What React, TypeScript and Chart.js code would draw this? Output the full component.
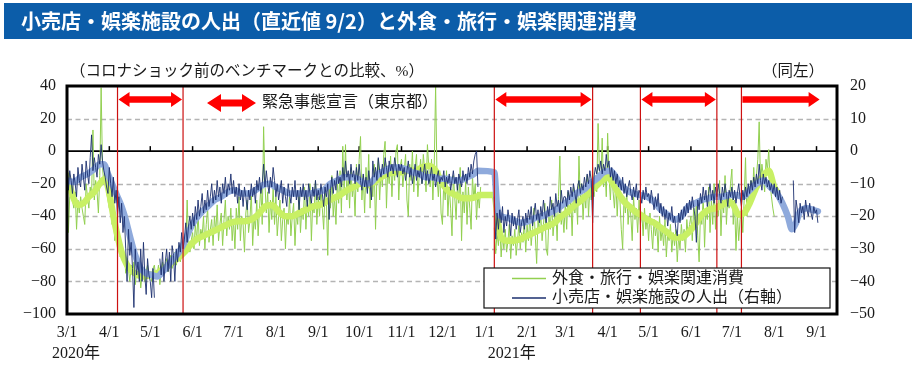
import React, { useEffect, useRef } from 'react';
import { Chart, registerables } from 'chart.js';

Chart.register(...registerables);

// ---------- texts ----------
const TITLE = '小売店・娯楽施設の人出（直近値 9/2）と外食・旅行・娯楽関連消費';
const LEFT_UNIT = '（コロナショック前のベンチマークとの比較、%）';
const RIGHT_UNIT = '（同左）';
const EMERGENCY_LABEL = '緊急事態宣言（東京都）';
const CONSUMPTION_LABEL = '外食・旅行・娯楽関連消費';
const MOBILITY_LABEL = '小売店・娯楽施設の人出（右軸）';

// ---------- axis ----------
const monthStarts = [
  '2020-03-01', '2020-04-01', '2020-05-01', '2020-06-01', '2020-07-01', '2020-08-01', '2020-09-01',
  '2020-10-01', '2020-11-01', '2020-12-01', '2021-01-01', '2021-02-01', '2021-03-01', '2021-04-01',
  '2021-05-01', '2021-06-01', '2021-07-01', '2021-08-01', '2021-09-01',
];
const tickLabels = [
  '3/1', '4/1', '5/1', '6/1', '7/1', '8/1', '9/1', '10/1', '11/1', '12/1',
  '1/1', '2/1', '3/1', '4/1', '5/1', '6/1', '7/1', '8/1', '9/1',
];
const yearLabels: [string, string, number][] = [
  ['2020年', '2020-03-01', -15],
  ['2021年', '2021-01-01', 3],
];
const leftMin = -100, leftMax = 40, leftStep = 20;
const rightMin = -50, rightMax = 20, rightStep = 10;
const axisEndDate = '2021-09-16';

// emergency declarations (Tokyo)
const emergencyPeriods: [string, string | null][] = [
  ['2020-04-07', '2020-05-25'],
  ['2021-01-08', '2021-03-21'],
  ['2021-04-25', '2021-06-20'],
  ['2021-07-08', null],
];
const ongoingArrowEnd = '2021-09-04';

// ---------- data: daily consumption (left axis, %), one array per month from 2020-03 ----------
const consumptionByMonth: (number | null)[][] = [
  [-5, -50, -28, -22, -30, -35, -25, -48, -30, -38, -28, -35, -40, -45, -20, -28, -35, -22, -28, 13, -30, -18, -25, -38, -15, 39, -10, -20, -8, -25, -30],
  [-35, -20, -45, -40, -55, -48, -60, -52, -65, -58, -68, -62, -75, -66, -72, -80, -70, -76, -68, -82, -74, -78, -70, -84, -76, -72, -80, -74, -70, -78],
  [-74, -80, -72, -70, -78, -76, -70, -82, -74, -68, -75, -70, -66, -74, -70, -64, -72, -66, -62, -70, -66, -58, -68, -62, -56, -64, -60, -30, -54, -62, -55],
  [-50, -60, -45, -55, -38, -58, -48, -52, -40, -60, -45, -35, -56, -48, -42, -58, -40, -50, -33, -55, -45, -38, -58, -42, -30, -52, -40, -48, -35, -55],
  [-42, -60, -35, -48, -28, -55, -40, -45, -62, -38, -30, -50, -42, -25, -58, -40, -48, -30, -52, -35, -22, -45, 15, -20, -38, -25, -50, -30, -42, -22, -45],
  [-28, -52, -40, -30, -55, -42, -35, -60, -38, -45, -28, -52, -40, -32, -58, -38, -45, -25, -50, -35, -42, -22, -48, -30, -40, -20, -55, -32, -38, -18, -45],
  [-28, -40, -22, -35, -48, -25, -30, -64, -20, -35, -15, -40, -28, -45, -18, -32, -12, -38, 3, -25, 4, -30, -15, -35, -10, -28, -20, -40, -8, -25],
  [-5, 9, -30, -15, -38, -10, -25, -2, -35, -18, -28, -8, -48, -15, -5, -30, -12, -22, -2, 6, -35, -10, -20, -3, -28, -8, -18, 0, 4, -30, -10],
  [-5, -22, -12, -2, -30, -40, -8, -18, 0, -25, -10, -2, -28, -15, -5, -20, -2, -12, -25, 4, -10, -22, -5, -30, -8, 40, -15, -28, -12, -38],
  [-45, -18, -30, -12, -40, -22, -35, -52, -15, -28, -42, -20, -32, -10, -55, -25, -38, -18, -45, -22, -35, -48, -15, -30, -20, -42, -25, -35, -22, null, null],
  [null, null, null, null, null, null, null, -47, -63, -50, -58, -45, -65, -52, -60, -48, -62, -55, -45, -66, -52, -58, -48, -64, -55, -45, -60, -50, -56, -42, -62],
  [-45, -55, -40, -58, -48, -35, -52, -69, -42, -50, -38, -55, -45, -32, -60, -64, -40, -48, -30, -52, -42, -35, -55, -28, -3, -45, -38, -50],
  [-32, -48, -25, -40, -30, -52, -22, -38, -28, -45, -3, -30, -20, -42, -25, -35, -15, -40, -22, -30, -10, -28, -15, -25, 17, -12, -20, 8, -22, -10, -28],
  [11, -15, -30, -12, -25, -35, -18, -40, -22, -30, -48, -60, -28, -38, -25, -45, -32, -40, -55, -28, -42, -35, -50, -30, -45, -38, -52, -35, -48, -40],
  [-55, -38, -48, -60, -42, -52, -45, -62, -40, -55, -48, -58, -42, -65, -50, -55, -45, -62, -50, -58, -48, -68, -52, -60, -45, -55, -48, -62, -42, -52, -45],
  [-40, -55, -35, -48, -30, -52, -68, -38, -45, -28, -59, -35, -42, -22, -50, -30, -45, -20, -48, -32, -40, -18, -52, -30, -38, -15, -45, -28, -35, -20],
  [-11, -45, -30, -61, -38, -55, -42, -35, -50, -30, -4, -40, -25, -35, -18, -30, -10, -25, -15, -5, 18, -20, -8, -15, -25, -5, -12, 1, -20, -28, -35],
  [-40],
];

// ---------- data: daily mobility (right axis, %), one array per month from 2020-03 ----------
const mobilityByMonth: (number | null)[][] = [
  [-1, -12, -6, -9, -13, -7, -10, -14, -5, -9, -11, -4, -8, -12, -3, -7, -10, -2, 5, -6, -2, -5, -8, -1, -4, 2, -3, -6, -8, -11, -13],
  [-5, -10, -14, -8, -16, -12, -20, -14, -22, -16, -25, -20, -30, -40, -24, -32, -28, -36, -48, -30, -38, -34, -40, -30, -40, -28, -38, -44, -33, -38],
  [-40, -45, -36, -45, null, null, null, -33, -38, -31, -40, -34, -30, -37, -31, -40, -29, -32, -40, -30, -34, -28, -31, -25, -30, -27, -22, -28, -23, -20, -24],
  [-19, -23, -17, -21, -15, -20, -17, -13, -19, -15, -18, -12, -17, -14, -10, -16, -12, -15, -9, -14, -11, -16, -10, -13, -8, -14, -10, -12, -7, -13],
  [-9, -14, -11, -16, -10, -15, -12, -17, -11, -14, -18, -12, -15, -10, -14, -11, -16, -9, -12, -8, -13, -10, -4, -11, -6, -10, -13, -8, -11, -5, -9],
  [-14, -10, -15, -12, -9, -16, -11, -14, -17, -10, -13, -16, -11, -14, -9, -15, -12, -18, -11, -14, -10, -15, -12, -17, -10, -13, -16, -11, -14, -9, -15],
  [-12, -15, -10, -13, -17, -11, -14, -10, -21, -12, -8, -13, -9, -12, -6, -10, -8, -11, -5, -9, -3, -8, -6, -10, -4, -8, -6, -10, -5, -9],
  [-4, -9, -12, -7, -11, -8, -13, -6, -10, -15, -3, -8, -5, -9, -2, -6, -8, -4, -7, -2, -5, -8, -3, -6, -4, -7, -2, -5, -8, -4, -6],
  [-4, -7, -5, -9, -6, -3, -8, -5, -10, -7, -4, -9, -6, -8, -5, -10, -7, -4, -9, -6, -10, -8, -5, -9, -7, -11, -8, -6, -10, -8],
  [-9, -6, -11, -8, -10, -7, -12, -9, -6, -10, -8, -12, -7, -9, -11, -6, -9, -7, -10, -5, -8, -4, -7, -3, -1, 0, -11, null, null, null, null],
  [null, null, null, null, null, null, null, -14, -27, -19, -24, -18, -22, -17, -25, -20, -23, -18, -21, -26, -19, -23, -20, -24, -21, -18, -25, -22, -20, -24, -19],
  [-22, -18, -21, -17, -23, -19, -16, -21, -18, -22, -17, -20, -15, -19, -22, -17, -20, -14, -18, -16, -20, -13, -17, -15, -19, -12, -16, -14],
  [-14, -17, -12, -15, -11, -14, -10, -13, -16, -11, -9, -13, -10, -12, -8, -11, -7, -10, -6, -9, -22, -8, -5, -7, -4, -6, -3, -7, -4, -6, -1],
  [-5, -3, -8, -5, -9, -6, -10, -7, -11, -9, -12, -8, -13, -10, -14, -11, -9, -13, -15, -11, -14, -10, -15, -12, -13, -16, -12, -15, -11, -14],
  [-13, -16, -12, -15, -18, -14, -17, -13, -19, -16, -20, -17, -21, -18, -23, -19, -21, -17, -22, -20, -24, -26, -19, -22, -18, -21, -17, -20, -16, -19, -15],
  [-18, -14, -17, -20, -28, -15, -18, -13, -16, -11, -15, -12, -17, -13, -10, -15, -12, -16, -11, -14, -10, -13, -16, -11, -14, -10, -13, -17, -12, -14],
  [-11, -15, -12, -16, -13, -10, -14, -17, -12, -15, -11, -14, -10, -13, -9, -12, -8, -11, -7, -10, -4, -9, -12, -7, -10, -8, -11, -9, -12, -10, -13],
  [-10, -14, -11, -15, -12, -16, -14, null, null, null, null, null, null, null, -9, -25, -15, -18, -22, -16, -19, -17, -21, -15, -18, -20, -16, -19, -21, -17, -19],
  [-18, -22],
];

// ---------- data: moving-average trends, [days since 2020-03-01, value] ----------
const consumptionTrend: [number, number][] = [
  [0, -15], [4, -27], [8, -33], [12, -32], [16, -28], [20, -25], [24, -20], [28, -17], [31, -26], [34, -40],
  [37, -52], [40, -62], [44, -70], [48, -74], [52, -76], [56, -77], [61, -76], [66, -75], [71, -72], [76, -69],
  [81, -66], [86, -62], [90, -58], [95, -54], [100, -52], [105, -50], [110, -48], [115, -46], [120, -44], [125, -43],
  [130, -43], [135, -42], [140, -39], [145, -34], [150, -33], [155, -37], [160, -40], [165, -40], [170, -38], [175, -36],
  [180, -34], [185, -33], [190, -31], [195, -29], [200, -27], [205, -24], [210, -22], [215, -20], [220, -21], [225, -19],
  [230, -16], [235, -14], [240, -13], [245, -13], [250, -12], [255, -12], [260, -10], [265, -9], [270, -12], [275, -20],
  [280, -25], [285, -27], [290, -29], [295, -29], [300, -28], [303, -27], [313, -27], [316, -45], [318, -53], [322, -55],
  [327, -55], [332, -54], [337, -52], [342, -50], [347, -48], [352, -46], [357, -44], [362, -40], [367, -37], [372, -33],
  [377, -30], [382, -26], [387, -22], [392, -18], [396, -16], [400, -20], [404, -26], [408, -31], [412, -34], [416, -37],
  [420, -39], [425, -42], [430, -44], [435, -47], [440, -50], [445, -53], [450, -53], [455, -50], [460, -45], [465, -39],
  [470, -36], [475, -35], [480, -33], [485, -31], [488, -33], [492, -39], [496, -38], [500, -32], [505, -22], [510, -15],
  [514, -12], [518, -22], [520, -25],
];
const mobilityTrend: [number, number][] = [
  [0, -9], [5, -9.5], [10, -8], [15, -7], [20, -5.5], [24, -4], [27, -4], [30, -7], [33, -10], [37, -14],
  [40, -17], [43, -21], [46, -26], [50, -32], [54, -36], [58, -37.5], [62, -38], [66, -38.5], [70, -37], [74, -35],
  [78, -33], [82, -31], [86, -28], [90, -24], [94, -21], [98, -19], [103, -17], [108, -15], [113, -14], [118, -12.5],
  [123, -12], [128, -13], [133, -13], [138, -12], [143, -10.5], [148, -10], [153, -11], [158, -12], [163, -13], [168, -13],
  [173, -13], [178, -13], [183, -12.5], [188, -12], [193, -10], [198, -9], [203, -8], [208, -8], [213, -8.5], [218, -10],
  [223, -9.5], [228, -7], [233, -6], [238, -5], [243, -5], [248, -5.5], [253, -6.5], [258, -7], [263, -8], [268, -8],
  [273, -8.5], [278, -8.5], [283, -9], [288, -9], [293, -8], [298, -7], [301, -6], [313, -6.5], [315, -17], [318, -20],
  [323, -20.5], [328, -21.5], [333, -22], [338, -21.5], [343, -20.5], [348, -20], [353, -19], [358, -18], [363, -16.5], [368, -15],
  [373, -13], [378, -12], [383, -10], [388, -8.5], [393, -6.5], [398, -6], [402, -8], [406, -10.5], [410, -12], [415, -13],
  [420, -13.5], [425, -14], [430, -15.5], [435, -18], [440, -19.5], [445, -21], [450, -20], [455, -17], [460, -16], [465, -15],
  [470, -14.5], [475, -14], [480, -14], [485, -13.5], [490, -13.5], [495, -14], [500, -12], [505, -10], [510, -9], [515, -11],
  [520, -13], [524, -16], [528, -20], [531, -24], [534, -22], [537, -18.5], [542, -17.5], [546, -18], [550, -18.5],
];

// ---------- helpers ----------
const BASE = Date.UTC(2020, 2, 1);
const dayOf = (s: string) => {
  const [y, m, d] = s.split('-').map(Number);
  return Math.round((Date.UTC(y, m - 1, d) - BASE) / 86400000);
};
const dailyPoints = (byMonth: (number | null)[][]) => {
  const pts: { x: number; y: number | null }[] = [];
  byMonth.forEach((vals, m) => {
    const start = dayOf(monthStarts[m]);
    vals.forEach((v, i) => pts.push({ x: start + i, y: v }));
  });
  return pts;
};
const trendPoints = (arr: [number, number][]) => arr.map(([x, y]) => ({ x, y }));

const NUM_FONT = "'Liberation Serif', 'DejaVu Serif', serif";
const MIX_FONT = "'Liberation Serif', 'Noto Sans CJK JP', sans-serif";
const JP_FONT = "'Noto Sans CJK JP', sans-serif";
const TEXT = '#1a1a1a';
const GREEN = '#92d050';
const GREEN_TREND = '#c8f064';
const NAVY = '#1b2f6e';
const BLUE_TREND = '#8faadc';
const RED_LINE = '#cc1111';
const RED_ARROW = '#ff0000';
const minusFmt = (v: any) => String(v).replace('-', '\u2212');

function drawArrow(ctx: CanvasRenderingContext2D, x1: number, x2: number, y: number, both: boolean, shaft: number, headH: number, headL: number) {
  ctx.beginPath();
  if (both) {
    ctx.moveTo(x1, y);
    ctx.lineTo(x1 + headL, y - headH / 2);
    ctx.lineTo(x1 + headL, y - shaft / 2);
  } else {
    ctx.moveTo(x1, y - shaft / 2);
  }
  ctx.lineTo(x2 - headL, y - shaft / 2);
  ctx.lineTo(x2 - headL, y - headH / 2);
  ctx.lineTo(x2, y);
  ctx.lineTo(x2 - headL, y + headH / 2);
  ctx.lineTo(x2 - headL, y + shaft / 2);
  if (both) {
    ctx.lineTo(x1 + headL, y + shaft / 2);
    ctx.lineTo(x1 + headL, y + headH / 2);
  } else {
    ctx.lineTo(x1, y + shaft / 2);
  }
  ctx.closePath();
  ctx.fill();
}

const decorPlugin = {
  id: 'decor',
  beforeDraw(chart: any) {
    const { ctx, width, height } = chart;
    ctx.save();
    ctx.fillStyle = '#ffffff';
    ctx.fillRect(0, 0, width, height);
    ctx.fillStyle = '#0c5da9';
    ctx.fillRect(4, 3, 908, 36);
    ctx.fillStyle = '#ffffff';
    ctx.font = `bold 20px ${JP_FONT}`;
    ctx.textBaseline = 'middle';
    ctx.textAlign = 'left';
    ctx.fillText(TITLE, 21, 21.5);
    ctx.fillStyle = TEXT;
    ctx.font = `15.5px ${MIX_FONT}`;
    ctx.fillText(LEFT_UNIT, 70, 72);
    ctx.textAlign = 'right';
    ctx.fillText(RIGHT_UNIT, 824, 72);
    ctx.restore();
  },
  beforeDatasetsDraw(chart: any) {
    const { ctx, chartArea: a, scales } = chart;
    const ys = scales.y;
    const xs = scales.x;
    ctx.save();
    ctx.strokeStyle = '#b4b4b4';
    ctx.lineWidth = 1.3;
    ctx.setLineDash([5, 3.5]);
    ys.ticks.forEach((t: any) => {
      if (t.value === 0 || t.value === leftMin || t.value === leftMax) return;
      const py = Math.round(ys.getPixelForValue(t.value)) + 0.5;
      ctx.beginPath();
      ctx.moveTo(a.left, py);
      ctx.lineTo(a.right, py);
      ctx.stroke();
    });
    ctx.setLineDash([]);
    const y0 = ys.getPixelForValue(0);
    ctx.strokeStyle = '#000';
    ctx.lineWidth = 1.8;
    ctx.beginPath();
    ctx.moveTo(a.left, y0);
    ctx.lineTo(a.right, y0);
    ctx.stroke();
    ctx.lineWidth = 1.5;
    monthStarts.forEach((d) => {
      const px = xs.getPixelForValue(dayOf(d));
      ctx.beginPath();
      ctx.moveTo(px, y0);
      ctx.lineTo(px, y0 - 5);
      ctx.stroke();
    });
    ctx.restore();
  },
  afterDatasetsDraw(chart: any) {
    const { ctx, chartArea: a, scales } = chart;
    const xs = scales.x;
    ctx.save();
    // red vertical lines
    ctx.strokeStyle = RED_LINE;
    ctx.lineWidth = 1.2;
    emergencyPeriods.forEach(([s, e]) => {
      [s, e].forEach((d) => {
        if (!d) return;
        const px = xs.getPixelForValue(dayOf(d));
        ctx.beginPath();
        ctx.moveTo(px, a.top);
        ctx.lineTo(px, a.bottom);
        ctx.stroke();
      });
    });
    // arrows
    ctx.fillStyle = RED_ARROW;
    emergencyPeriods.forEach(([s, e]) => {
      const x1 = xs.getPixelForValue(dayOf(s));
      const x2 = xs.getPixelForValue(dayOf(e || ongoingArrowEnd));
      drawArrow(ctx, x1 + 1, x2 - 1, 99.5, !!e, 6.5, 15, 11);
    });
    drawArrow(ctx, 207, 256, 103, true, 7, 18, 14);
    ctx.fillStyle = TEXT;
    ctx.font = `16px ${MIX_FONT}`;
    ctx.textBaseline = 'middle';
    ctx.textAlign = 'left';
    ctx.fillText(EMERGENCY_LABEL, 262, 103);
    // frame
    ctx.strokeStyle = '#000';
    ctx.lineWidth = 3;
    ctx.strokeRect(a.left, a.top, a.right - a.left, a.bottom - a.top);
    // legend
    ctx.fillStyle = '#fff';
    ctx.fillRect(484, 268, 346, 40);
    ctx.strokeStyle = '#111';
    ctx.lineWidth = 1.2;
    ctx.strokeRect(484, 268, 346, 40);
    const rows = chart.data.datasets.filter((ds: any) => ds.legendRow !== undefined);
    rows.forEach((ds: any) => {
      const ry = 278.5 + ds.legendRow * 19.5;
      ctx.strokeStyle = ds.borderColor;
      ctx.lineWidth = 1.6;
      ctx.beginPath();
      ctx.moveTo(512, ry);
      ctx.lineTo(546, ry);
      ctx.stroke();
      ctx.fillStyle = TEXT;
      ctx.font = `16px ${MIX_FONT}`;
      ctx.fillText(ds.label, 552, ry);
    });
    // year labels
    ctx.font = `16px ${MIX_FONT}`;
    yearLabels.forEach(([txt, d, off]) => {
      ctx.fillText(txt, xs.getPixelForValue(dayOf(d)) + off, 354);
    });
    ctx.restore();
  },
};

export default function App() {
  const ref = useRef<HTMLCanvasElement | null>(null);
  useEffect(() => {
    document.body.style.margin = '0';
    if (!ref.current) return;
    const chart = new Chart(ref.current, {
      type: 'line',
      data: {
        datasets: [
          {
            label: MOBILITY_LABEL, data: dailyPoints(mobilityByMonth), yAxisID: 'y2',
            borderColor: NAVY, borderWidth: 0.9, pointRadius: 0, spanGaps: false, order: 0, legendRow: 1,
          } as any,
          {
            label: 'mobility trend', data: trendPoints(mobilityTrend), yAxisID: 'y2',
            borderColor: BLUE_TREND, borderWidth: 6.5, pointRadius: 0, cubicInterpolationMode: 'monotone',
            borderCapStyle: 'round', borderJoinStyle: 'round', order: 1,
          } as any,
          {
            label: 'consumption trend', data: trendPoints(consumptionTrend), yAxisID: 'y',
            borderColor: GREEN_TREND, borderWidth: 6.5, pointRadius: 0, cubicInterpolationMode: 'monotone',
            borderCapStyle: 'round', borderJoinStyle: 'round', order: 2,
          } as any,
          {
            label: CONSUMPTION_LABEL, data: dailyPoints(consumptionByMonth), yAxisID: 'y',
            borderColor: GREEN, borderWidth: 1, pointRadius: 0, spanGaps: false, order: 3, legendRow: 0,
          } as any,
        ],
      },
      options: {
        animation: false,
        responsive: false,
        devicePixelRatio: 1,
        layout: { padding: { top: 86, left: 0, right: 0, bottom: 0 } },
        plugins: { legend: { display: false }, tooltip: { enabled: false }, title: { display: false } },
        elements: { line: { fill: false } },
        scales: {
          x: {
            type: 'linear', min: 0, max: dayOf(axisEndDate),
            afterBuildTicks: (s: any) => { s.ticks = monthStarts.map((d) => ({ value: dayOf(d) })); },
            afterFit: (s: any) => { s.height = 57; },
            ticks: {
              autoSkip: false, maxRotation: 0, padding: 9, color: TEXT,
              font: { family: NUM_FONT, size: 16 },
              callback: (_v: any, i: number) => tickLabels[i],
            },
            grid: { display: false, drawTicks: false },
            border: { display: false },
          },
          y: {
            position: 'left', min: leftMin, max: leftMax,
            afterFit: (s: any) => { s.width = 67; },
            ticks: { stepSize: leftStep, padding: 11, color: TEXT, font: { family: NUM_FONT, size: 16 }, callback: minusFmt },
            grid: { display: false, drawTicks: false },
            border: { display: false },
          },
          y2: {
            position: 'right', min: rightMin, max: rightMax,
            afterFit: (s: any) => { s.width = 80; },
            ticks: { stepSize: rightStep, padding: 13, color: TEXT, font: { family: NUM_FONT, size: 16 }, callback: minusFmt },
            grid: { display: false, drawTicks: false },
            border: { display: false },
          },
        } as any,
      },
      plugins: [decorPlugin],
    });
    return () => chart.destroy();
  }, []);
  return (
    <div style={{ width: 917, height: 371 }}>
      <canvas ref={ref} width={917} height={371} />
    </div>
  );
}
